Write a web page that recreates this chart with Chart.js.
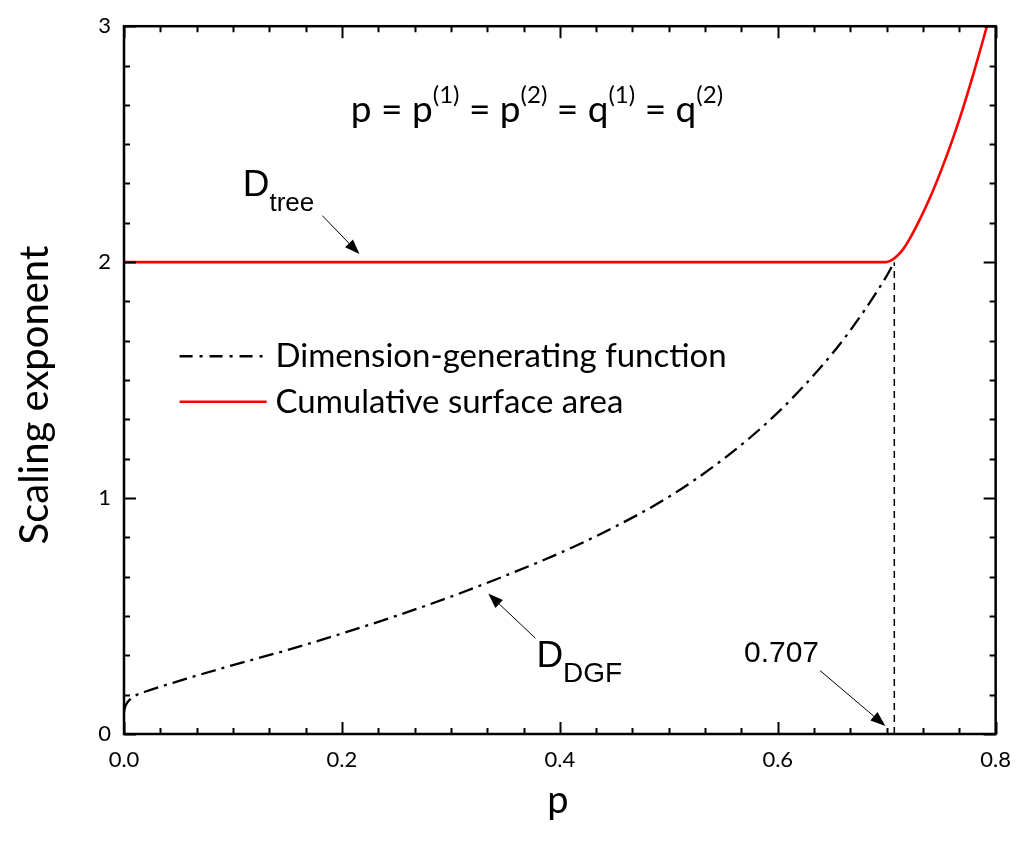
<!DOCTYPE html>
<html>
<head>
<meta charset="utf-8">
<script src="https://cdn.jsdelivr.net/npm/chart.js@4.4.0/dist/chart.umd.min.js"></script>
<style>
html, body { margin: 0; padding: 0; background: #fff; }
#wrap { width: 1024px; height: 845px; }
</style>
</head>
<body>
<div id="wrap"><canvas id="myChart" width="1024" height="845"></canvas></div>
<script>
// dimension-generating function curve
var dgf_p   = [0, 0.001, 0.003, 0.006, 0.01, 0.02, 0.035, 0.05, 0.07, 0.1, 0.15, 0.2, 0.25, 0.3, 0.35, 0.4, 0.45, 0.5, 0.55, 0.6, 0.65, 0.68, 0.7, 0.707];
var dgf_val = [0.094, 0.115, 0.133, 0.149, 0.162, 0.180, 0.203, 0.224, 0.252, 0.292, 0.356, 0.426, 0.501, 0.582, 0.671, 0.767, 0.877, 1.005, 1.165, 1.362, 1.612, 1.798, 1.942, 2.0];

// cumulative surface area exponent
var area_p   = [0, 0.1, 0.2, 0.3, 0.4, 0.5, 0.6, 0.69, 0.6975, 0.70, 0.705, 0.71, 0.715, 0.72, 0.73, 0.74, 0.75, 0.76, 0.77, 0.78, 0.792];
var area_val = [2, 2, 2, 2, 2, 2, 2, 2, 2, 2.001, 2.010, 2.028, 2.054, 2.09, 2.177, 2.276, 2.389, 2.514, 2.652, 2.804, 3.0];

// critical p marker
var crit_p   = [0.707, 0.707];
var crit_val = [0, 2];

var x_ticks  = [0, 0.2, 0.4, 0.6, 0.8];
var x_labels = ["0.0", "0.2", "0.4", "0.6", "0.8"];
var y_ticks  = [0, 1, 2, 3];
var y_labels = ["0", "1", "2", "3"];
var minor_div = 6;

var legend_labels = ["Dimension-generating function", "Cumulative surface area"];
var x_title = "p";
var y_title = "Scaling exponent";

function toPoints(xs, ys) {
    var pts = [];
    for (var i = 0; i < xs.length; i++) {
        pts.push({x: xs[i], y: ys[i]});
    }
    return pts;
}

var calibri = "Lato, 'Open Sans', sans-serif";
var arial = "'Liberation Sans', Arial, sans-serif";

function arrow(ctx, x0, y0, x1, y1) {
    var ang = Math.atan2(y1 - y0, x1 - x0);
    var len = 15, half = 5.5;
    ctx.save();
    ctx.strokeStyle = "#000";
    ctx.fillStyle = "#000";
    ctx.lineWidth = 1;
    ctx.beginPath();
    ctx.moveTo(x0, y0);
    ctx.lineTo(x1 - Math.cos(ang) * len * 0.8, y1 - Math.sin(ang) * len * 0.8);
    ctx.stroke();
    ctx.beginPath();
    ctx.moveTo(x1, y1);
    ctx.lineTo(x1 - Math.cos(ang) * len - Math.sin(ang) * half, y1 - Math.sin(ang) * len + Math.cos(ang) * half);
    ctx.lineTo(x1 - Math.cos(ang) * len + Math.sin(ang) * half, y1 - Math.sin(ang) * len - Math.cos(ang) * half);
    ctx.closePath();
    ctx.fill();
    ctx.restore();
}

// draw a run of text pieces, some raised or lowered
function runs(ctx, x, y, parts) {
    for (var i = 0; i < parts.length; i++) {
        var r = parts[i];
        ctx.font = r.font;
        ctx.fillText(r.t, x, y + (r.dy || 0));
        x += ctx.measureText(r.t).width;
    }
}

var framePlugin = {
    id: "frame",
    afterDraw: function(chart) {
        var ctx = chart.ctx;
        var a = chart.chartArea;
        var xs = chart.scales.x, ys = chart.scales.y;
        var px = function(v) { return xs.getPixelForValue(v); };
        var py = function(v) { return ys.getPixelForValue(v); };

        ctx.save();
        ctx.strokeStyle = "#000";
        ctx.lineWidth = 2.5;
        ctx.strokeRect(a.left, a.top, a.right - a.left, a.bottom - a.top);

        // inward ticks on all four sides
        ctx.lineWidth = 2;
        ctx.beginPath();
        var i, j, v, step;
        step = (x_ticks[1] - x_ticks[0]) / minor_div;
        for (i = 0; i < x_ticks.length; i++) {
            for (j = 0; j < minor_div; j++) {
                v = x_ticks[i] + j * step;
                if (v > x_ticks[x_ticks.length - 1] + 1e-9) continue;
                var lx = Math.round(px(v)) + 0.5;
                var tl = (j == 0) ? 12 : 6;
                ctx.moveTo(lx, a.bottom); ctx.lineTo(lx, a.bottom - tl);
                ctx.moveTo(lx, a.top); ctx.lineTo(lx, a.top + tl);
            }
        }
        step = (y_ticks[1] - y_ticks[0]) / minor_div;
        for (i = 0; i < y_ticks.length; i++) {
            for (j = 0; j < minor_div; j++) {
                v = y_ticks[i] + j * step;
                if (v > y_ticks[y_ticks.length - 1] + 1e-9) continue;
                var ly = Math.round(py(v)) + 0.5;
                var tl2 = (j == 0) ? 12 : 6;
                ctx.moveTo(a.left, ly); ctx.lineTo(a.left + tl2, ly);
                ctx.moveTo(a.right, ly); ctx.lineTo(a.right - tl2, ly);
            }
        }
        ctx.stroke();

        // axis titles
        ctx.fillStyle = "#000";
        ctx.textBaseline = "alphabetic";
        ctx.textAlign = "center";
        ctx.font = "38px " + calibri;
        ctx.fillText(x_title, (a.left + a.right) / 2 - 2, 813);
        ctx.save();
        ctx.translate(48, (a.top + a.bottom) / 2 + 15);
        ctx.rotate(-Math.PI / 2);
        ctx.font = "40px " + calibri;
        ctx.fillText(y_title, 0, 0);
        ctx.restore();

        // legend
        ctx.textAlign = "left";
        var ds = chart.data.datasets;
        var legendRows = [{d: ds[0], y: 1.601, dash: [13, 7, 3, 7]}, {d: ds[1], y: 1.408, dash: []}];
        for (i = 0; i < legendRows.length; i++) {
            var row = legendRows[i];
            ctx.save();
            ctx.strokeStyle = row.d.borderColor;
            ctx.lineWidth = row.d.borderWidth;
            ctx.setLineDash(row.dash);
            ctx.beginPath();
            ctx.moveTo(px(0.051), py(row.y));
            ctx.lineTo(px(0.131), py(row.y));
            ctx.stroke();
            ctx.restore();
            ctx.font = "33px " + calibri;
            ctx.fillText(legend_labels[i], px(0.139), py(row.y) + 11);
        }

        // formula
        var big = "37px " + calibri, sup = "24px " + calibri;
        runs(ctx, px(0.2082), py(2.594), [
            {t: "p = p", font: big}, {t: "(1)", font: sup, dy: -19},
            {t: " = p", font: big}, {t: "(2)", font: sup, dy: -19},
            {t: " = q", font: big}, {t: "(1)", font: sup, dy: -19},
            {t: " = q", font: big}, {t: "(2)", font: sup, dy: -19}
        ]);

        // D_tree
        runs(ctx, px(0.109), py(2.282), [
            {t: "D", font: "37px " + arial}, {t: "tree", font: "26px " + arial, dy: 15}
        ]);
        arrow(ctx, px(0.182), py(2.197), px(0.2161), py(2.034));

        // D_DGF
        runs(ctx, px(0.3785), py(0.282), [
            {t: "D", font: "37px " + arial}, {t: "DGF", font: "28px " + arial, dy: 15}
        ]);
        arrow(ctx, px(0.3776), py(0.406), px(0.3343), py(0.595));

        // 0.707
        ctx.font = "30px " + arial;
        ctx.fillText("0.707", px(0.569), py(0.307));
        arrow(ctx, px(0.6388), py(0.269), px(0.6988), py(0.034));

        ctx.restore();
    }
};

var ctx = document.getElementById("myChart").getContext("2d");
var myChart = new Chart(ctx, {
    type: "scatter",
    data: {
        datasets: [{
                label: legend_labels[0],
                data: toPoints(dgf_p, dgf_val),
                showLine: true,
                borderColor: "#000",
                borderWidth: 2.3,
                borderDash: [15, 6, 3, 6],
                pointRadius: 0,
                cubicInterpolationMode: "monotone",
                order: 1
            },
            {
                label: legend_labels[1],
                data: toPoints(area_p, area_val),
                showLine: true,
                borderColor: "#ff0000",
                borderWidth: 2.6,
                pointRadius: 0,
                cubicInterpolationMode: "monotone",
                order: 0
            },
            {
                label: "critical",
                data: toPoints(crit_p, crit_val),
                showLine: true,
                borderColor: "#000",
                borderWidth: 1.5,
                borderDash: [7, 5],
                pointRadius: 0,
                order: 2
            }
        ]
    },
    options: {
        responsive: false,
        animation: false,
        devicePixelRatio: 1,
        layout: { padding: { top: 20, right: 21, left: 0, bottom: 0 } },
        plugins: { legend: { display: false }, tooltip: { enabled: false } },
        scales: {
            x: {
                type: "linear",
                min: 0,
                max: 0.8,
                grid: { display: false, drawTicks: false },
                border: { display: false },
                afterBuildTicks: function(scale) {
                    scale.ticks = x_ticks.map(function(v) { return {value: v}; });
                },
                afterFit: function(scale) { scale.height = 111; },
                ticks: {
                    padding: 13,
                    color: "#000",
                    font: { family: calibri, size: 22 },
                    maxRotation: 0,
                    callback: function(v, i) { return x_labels[i]; }
                }
            },
            y: {
                type: "linear",
                min: 0,
                max: 3,
                grid: { display: false, drawTicks: false },
                border: { display: false },
                afterBuildTicks: function(scale) {
                    scale.ticks = y_ticks.map(function(v) { return {value: v}; });
                },
                afterFit: function(scale) { scale.width = 124; },
                ticks: {
                    padding: 13,
                    color: "#000",
                    font: { family: calibri, size: 22 },
                    callback: function(v, i) { return y_labels[i]; }
                }
            }
        }
    },
    plugins: [framePlugin]
});
</script>
</body>
</html>
